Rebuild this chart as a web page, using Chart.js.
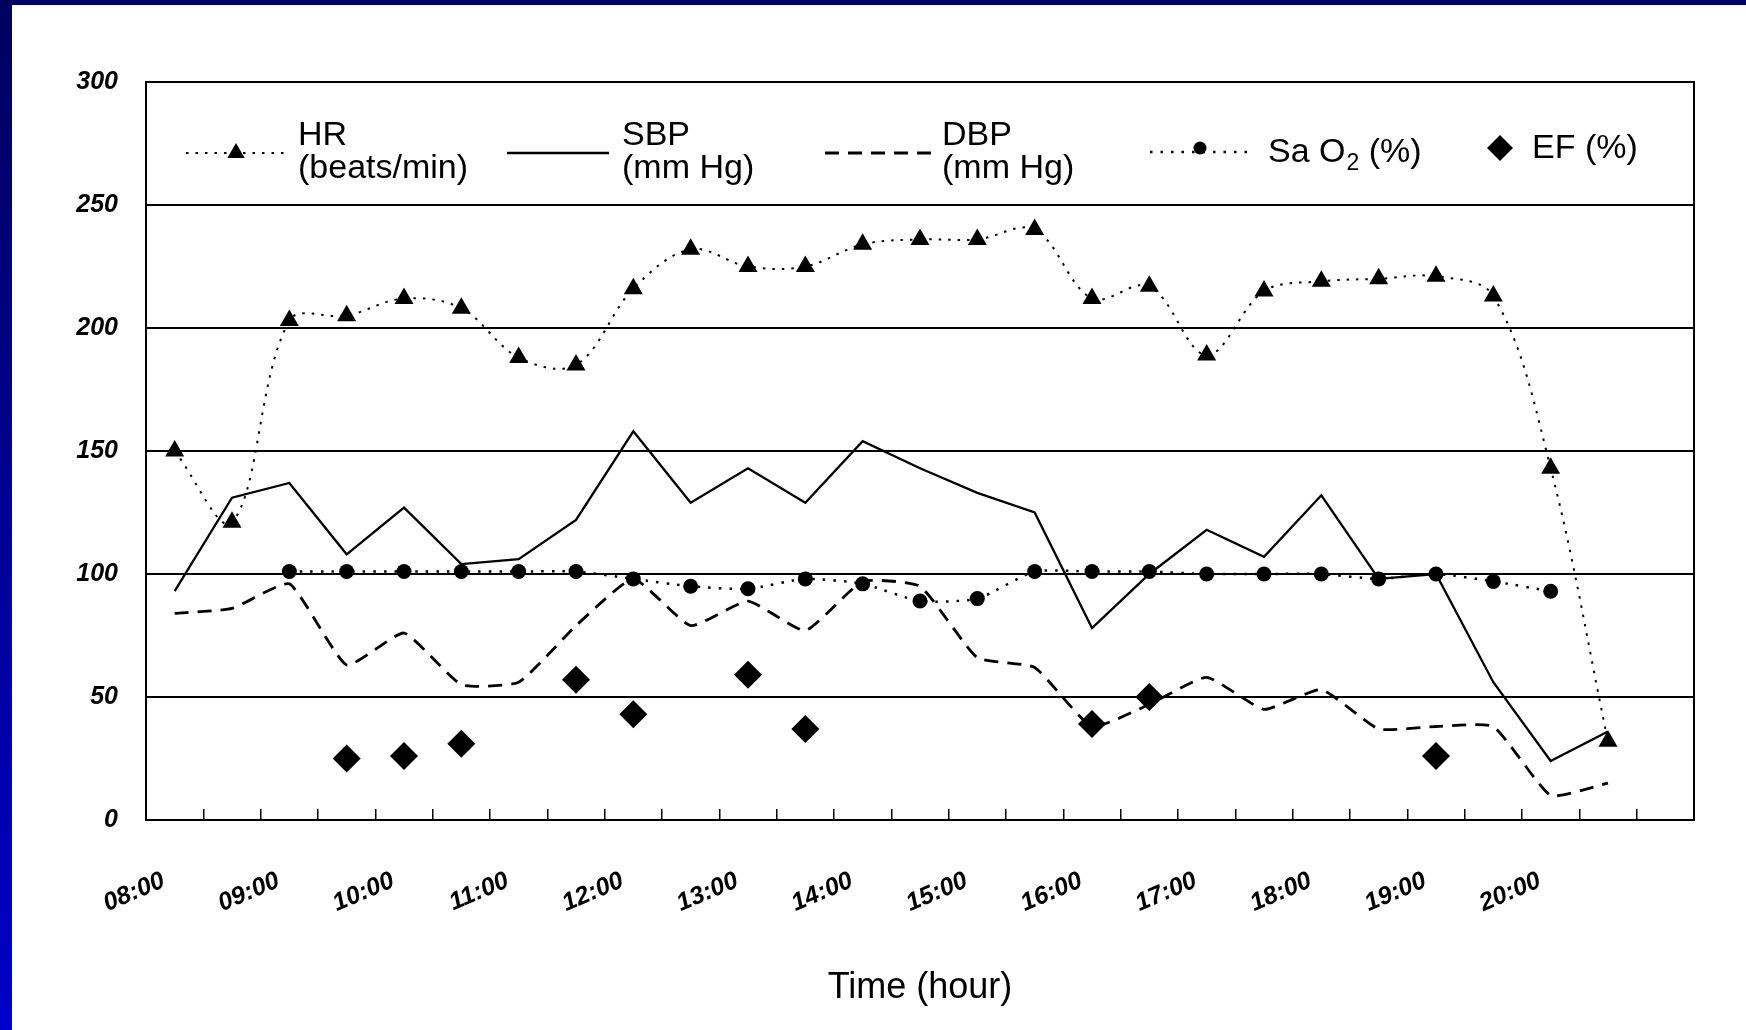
<!DOCTYPE html>
<html lang="en">
<head>
  <meta charset="UTF-8" />
  <title>HR, SBP, DBP, SaO2 and EF over time</title>
  <script src="https://cdn.jsdelivr.net/npm/chart.js"></script>
  <style>
    html, body { margin: 0; padding: 0; }
    body {
      width: 1746px;
      height: 1030px;
      overflow: hidden;
      position: relative;
      background: linear-gradient(#00005e, #0000c8);
    }
    .sheet {
      position: absolute;
      left: 12px;
      top: 5px;
      width: 1734px;
      height: 1025px;
      background: #fff;
    }
  </style>
</head>
<body>
  <div class="sheet"><canvas id="vitals" width="1734" height="1025"></canvas></div>

  <script>
    // half-hour slots, last slot is left empty like in the original figure
    const times = [
      '08:00', '08:30', '09:00', '09:30', '10:00', '10:30', '11:00', '11:30', '12:00',
      '12:30', '13:00', '13:30', '14:00', '14:30', '15:00', '15:30', '16:00', '16:30',
      '17:00', '17:30', '18:00', '18:30', '19:00', '19:30', '20:00', '20:30', ''
    ];
    const hr   = [150, 121, 203, 205, 212, 208, 188, 185, 216, 232, 225, 225, 234,
                  236, 236, 240, 212, 217, 189, 215, 219, 220, 221, 213, 143, 32];
    const sbp  = [93, 131, 137, 108, 127, 104, 106, 122, 158, 129, 143, 129, 154,
                  143, 133, 125, 78, 100, 118, 107, 132, 98, 100, 56, 24, 36];
    const dbp  = [84, 86, 96, 63, 76, 55, 56, 79, 98, 79, 89, 77, 97,
                  95, 66, 62, 38, 47, 58, 45, 53, 37, 38, 38, 10, 15];
    const sao2 = [null, null, 101, 101, 101, 101, 101, 101, 98, 95, 94, 98, 96,
                  89, 90, 101, 101, 101, 100, 100, 100, 98, 100, 97, 93, null];
    const ef   = [null, null, null, 25, 26, 31, null, 57, 43, null, 59, 37, null,
                  null, null, null, 39, 50, null, null, null, null, 26, null, null, null];
    const yTicks = [0, 50, 100, 150, 200, 250, 300];

    Chart.defaults.font.family = "'Liberation Sans', Arial, Helvetica, sans-serif";
    Chart.defaults.color = '#000';

    const tickFont = { size: 25, style: 'italic', weight: 'bold' };

    // legend sits inside the plot, between the 300 and 250 lines
    const legendEntries = [
      { ds: 0, lines: ['HR', '(beats/min)'], x0: 174, x1: 274, tx: 286 },
      { ds: 1, lines: ['SBP', '(mm Hg)'], x0: 495, x1: 597, tx: 610 },
      { ds: 2, lines: ['DBP', '(mm Hg)'], x0: 813, x1: 920, tx: 930 },
      { ds: 3, lines: ['Sa O2 (%)'], x0: 1138, x1: 1238, tx: 1256 },
      { ds: 4, lines: ['EF (%)'], x0: 1488, x1: 1488, tx: 1520 }
    ];

    function marker(ctx, style, x, y, r) {
      ctx.beginPath();
      if (style === 'triangle') {
        ctx.moveTo(x, y - r);
        ctx.lineTo(x + r * 0.866, y + r / 2);
        ctx.lineTo(x - r * 0.866, y + r / 2);
      } else if (style === 'rectRot') {
        ctx.moveTo(x - r, y);
        ctx.lineTo(x, y - r);
        ctx.lineTo(x + r, y);
        ctx.lineTo(x, y + r);
      } else {
        ctx.arc(x, y, r, 0, Math.PI * 2);
      }
      ctx.closePath();
      ctx.fill();
    }

    const insideLegend = {
      id: 'insideLegend',
      afterDraw(chart) {
        const ctx = chart.ctx;
        ctx.save();
        ctx.fillStyle = '#000';
        ctx.strokeStyle = '#000';
        ctx.textBaseline = 'alphabetic';
        legendEntries.forEach(e => {
          const ds = chart.data.datasets[e.ds];
          const lineY = e.lines.length > 1 ? 148 : 147;
          if (ds.showLine !== false) {
            ctx.lineWidth = ds.borderWidth;
            ctx.setLineDash(ds.borderDash || []);
            ctx.beginPath();
            ctx.moveTo(e.x0, lineY);
            ctx.lineTo(e.x1, lineY);
            ctx.stroke();
            ctx.setLineDash([]);
          }
          if (ds.pointRadius > 0) {
            const r = ds.pointStyle === 'rectRot' ? 13 : ds.pointStyle === 'triangle' ? 10 : 6.5;
            marker(ctx, ds.pointStyle, (e.x0 + e.x1) / 2, e.lines.length > 1 ? lineY : 143, r);
          }
          ctx.font = "34px 'Liberation Sans', Arial, sans-serif";
          if (e.lines.length > 1) {
            ctx.fillText(e.lines[0], e.tx, 140);
            ctx.fillText(e.lines[1], e.tx, 173);
          } else {
            const base = e.ds === 3 ? 157 : 153;
            const parts = e.lines[0].split(/(?<=O)2/);
            let x = e.tx;
            ctx.fillText(parts[0], x, base);
            x += ctx.measureText(parts[0]).width;
            if (parts.length > 1) {
              ctx.font = "23px 'Liberation Sans', Arial, sans-serif";
              ctx.fillText('2', x + 1, base + 8);
              x += ctx.measureText('2').width + 1;
              ctx.font = "34px 'Liberation Sans', Arial, sans-serif";
              ctx.fillText(parts[1], x, base);
            }
          }
        });
        ctx.restore();
      }
    };

    new Chart(document.getElementById('vitals'), {
      type: 'line',
      data: {
        labels: times,
        datasets: [
          {
            label: 'HR (beats/min)',
            data: hr,
            borderColor: '#000',
            backgroundColor: '#000',
            borderWidth: 2,
            borderDash: [2.5, 7],
            tension: 0.35,
            pointStyle: 'triangle',
            pointRadius: 11,
            pointBorderWidth: 0
          },
          {
            label: 'SBP (mm Hg)',
            data: sbp,
            borderColor: '#000',
            backgroundColor: '#000',
            borderWidth: 2.3,
            tension: 0,
            pointRadius: 0
          },
          {
            label: 'DBP (mm Hg)',
            data: dbp,
            borderColor: '#000',
            backgroundColor: '#000',
            borderWidth: 2.8,
            borderDash: [14, 9],
            tension: 0.15,
            pointRadius: 0
          },
          {
            label: 'SaO2 (%)',
            data: sao2,
            borderColor: '#000',
            backgroundColor: '#000',
            borderWidth: 2.5,
            borderDash: [2.5, 8],
            tension: 0.2,
            pointStyle: 'circle',
            pointRadius: 7.5,
            pointBorderWidth: 0
          },
          {
            label: 'EF (%)',
            data: ef,
            showLine: false,
            borderColor: '#000',
            backgroundColor: '#000',
            pointStyle: 'rectRot',
            pointRadius: 14,
            pointBorderWidth: 0
          }
        ]
      },
      options: {
        responsive: false,
        animation: false,
        devicePixelRatio: 1,
        layout: { padding: { left: 0, top: 77, right: 52, bottom: 0 } },
        plugins: {
          legend: { display: false },
          tooltip: { enabled: false }
        },
        scales: {
          x: {
            offset: true,
            grid: {
              offset: true,
              drawOnChartArea: false,
              color: '#000',
              lineWidth: 1.5,
              tickLength: -11
            },
            border: { color: '#000', width: 2 },
            ticks: {
              autoSkip: false,
              minRotation: 23,
              maxRotation: 23,
              padding: 57,
              labelOffset: -11,
              font: tickFont,
              callback(value) {
                const t = this.getLabelForValue(value);
                return t.endsWith(':00') ? t : '';
              }
            },
            title: {
              display: true,
              text: 'Time (hour)',
              font: { size: 36 },
              padding: { top: 0, bottom: 20 }
            },
            afterFit: scale => { scale.height = 210; }
          },
          y: {
            min: yTicks[0],
            max: yTicks[yTicks.length - 1],
            afterBuildTicks: scale => { scale.ticks = yTicks.map(v => ({ value: v })); },
            grid: { color: '#000', lineWidth: 2, drawTicks: false },
            border: { color: '#000', width: 2 },
            ticks: { padding: 28, font: tickFont },
            afterFit: scale => { scale.width = 134; }
          },
          yRight: {
            position: 'right',
            min: yTicks[0],
            max: yTicks[yTicks.length - 1],
            grid: { drawOnChartArea: false, drawTicks: false },
            border: { color: '#000', width: 2 },
            ticks: { display: false },
            afterFit: scale => { scale.width = 0; }
          }
        }
      },
      plugins: [insideLegend]
    });
  </script>
</body>
</html>
